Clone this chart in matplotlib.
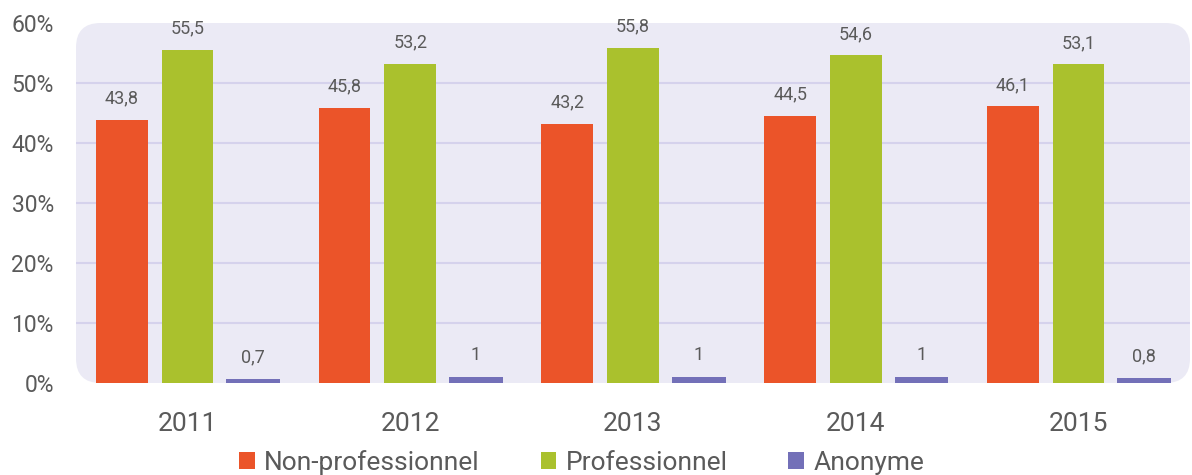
import matplotlib
matplotlib.use("Agg")
import matplotlib.pyplot as plt
from matplotlib.patches import FancyBboxPatch, Patch
import numpy as np

# ── Data ──────────────────────────────────────────────────────────────────────
YEARS = ["2011", "2012", "2013", "2014", "2015"]
NON_PRO = [43.8, 45.8, 43.2, 44.5, 46.1]
PRO     = [55.5, 53.2, 55.8, 54.6, 53.1]
ANON    = [0.7, 1, 1, 1, 0.8]
SERIES  = ["Non-professionnel", "Professionnel", "Anonyme"]
Y_TICKS = [0, 10, 20, 30, 40, 50, 60]

COLORS = ["#eb5429", "#aac12d", "#7370b8"]
BG     = "#ebeaf5"
GRID   = "#d5d2ec"
TXT    = "#5a5a5a"

plt.rcParams["font.family"] = ["Roboto", "DejaVu Sans"]

fig = plt.figure(figsize=(11.92, 4.75), dpi=100)
ax = fig.add_axes([76 / 1192, 1 - 383 / 475, 1114 / 1192, 360 / 475])
ax.set_facecolor("none")
for s in ax.spines.values():
    s.set_visible(False)

# rounded background panel
aspect = 1114 / 360
bg = FancyBboxPatch((0, 0), 1, 1, boxstyle="round,pad=0,rounding_size=0.022",
                    mutation_aspect=aspect, transform=ax.transAxes,
                    facecolor=BG, edgecolor="none", zorder=0, clip_on=False)
ax.add_patch(bg)

for y in Y_TICKS[1:-1]:
    ax.axhline(y, color=GRID, linewidth=1.5, zorder=1)

x = np.arange(len(YEARS))
offsets = [-0.295, 0.0, 0.295]
widths = [0.232, 0.232, 0.242]
for vals, off, w, col in zip([NON_PRO, PRO, ANON], offsets, widths, COLORS):
    bars = ax.bar(x + off, vals, width=w, color=col, zorder=2)
    for b, v in zip(bars, vals):
        lab = f"{v:g}".replace(".", ",")
        ax.annotate(lab, (b.get_x() + b.get_width() / 2, v), xytext=(0, 9),
                    textcoords="offset points", ha="center", va="bottom",
                    fontsize=13, color=TXT)

ax.set_xlim(-0.5, len(YEARS) - 0.5)
ax.set_ylim(0, 60)
ax.set_yticks(Y_TICKS)
ax.set_yticklabels([f"{t}%" for t in Y_TICKS], fontsize=16.5, color=TXT)
ax.set_xticks(x)
ax.set_xticklabels(YEARS, fontsize=19, color=TXT)
ax.tick_params(axis="both", length=0)
ax.tick_params(axis="y", pad=16)
ax.tick_params(axis="x", pad=21)

handles = [Patch(facecolor=c, edgecolor="none") for c in COLORS]
leg = fig.legend(handles, SERIES, loc="lower center", bbox_to_anchor=(0.488, -0.05),
                 ncol=3, frameon=False, fontsize=19, handlelength=0.6,
                 handleheight=0.6, handletextpad=0.35, columnspacing=2.3)
for t in leg.get_texts():
    t.set_color(TXT)

fig.savefig("out.png", dpi=100)
